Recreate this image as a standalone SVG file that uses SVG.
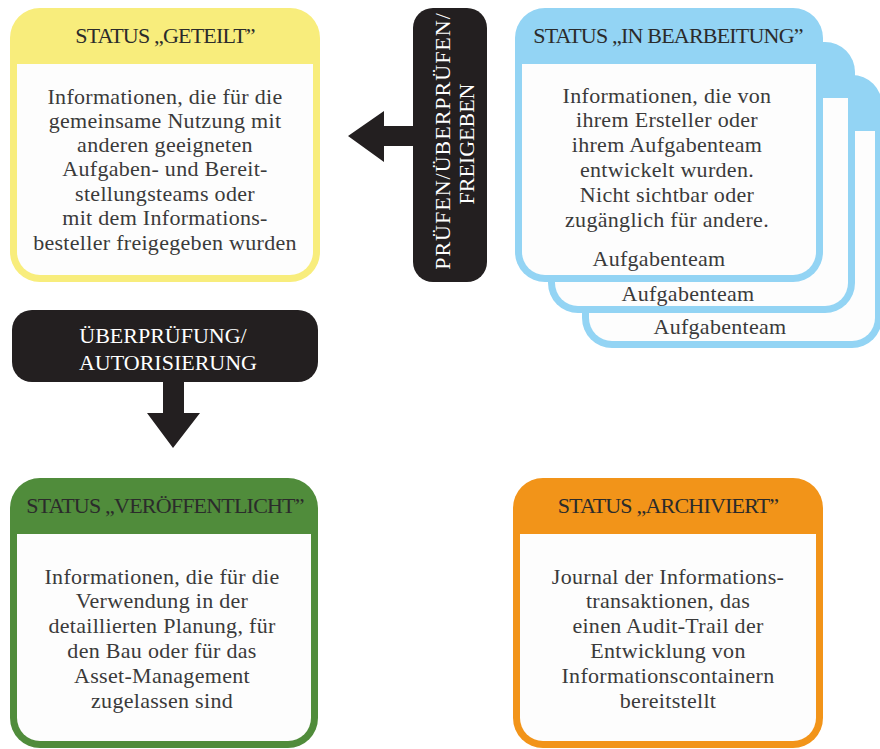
<svg xmlns="http://www.w3.org/2000/svg" width="880" height="749" viewBox="0 0 880 749">
  <style>
    .head { font-family: "Liberation Serif", "DejaVu Serif", serif; font-size: 22px; fill: #2b2b2b; text-anchor: middle; letter-spacing: -0.8px; }
    .body { font-family: "Liberation Serif", "DejaVu Serif", serif; font-size: 22px; fill: #3a3a3a; text-anchor: middle; letter-spacing: 0.3px; }
    .tag { font-family: "Liberation Serif", "DejaVu Serif", serif; font-size: 22px; fill: #ffffff; text-anchor: middle; }
    .inner { fill: #fdfdfd; }
    .yellow { fill: #f8ed7c; }
    .blue { fill: #93d4f4; }
    .green { fill: #508c3b; }
    .orange { fill: #f29419; }
    .dark { fill: #231f20; }
  </style>

  <rect width="880" height="749" fill="#ffffff"/>

  <!-- Status: shared -->
  <g id="status-geteilt">
    <rect class="yellow" x="10" y="8" width="310" height="274" rx="30"/>
    <path class="inner" d="M17,64 H313 V252 A23,23 0 0 1 290,275 H40 A23,23 0 0 1 17,252 Z"/>
    <text class="head" x="165" y="43">STATUS „GETEILT”</text>
    <text class="body" x="165" y="104">Informationen, die für die</text>
    <text class="body" x="165" y="128">gemeinsame Nutzung mit</text>
    <text class="body" x="165" y="152">anderen geeigneten</text>
    <text class="body" x="165" y="176">Aufgaben- und Bereit-</text>
    <text class="body" x="165" y="201">stellungsteams oder</text>
    <text class="body" x="165" y="225">mit dem Informations-</text>
    <text class="body" x="165" y="250">besteller freigegeben wurden</text>
  </g>

  <!-- Status: work in progress (stack of task teams) -->
  <g id="status-in-bearbeitung">
    <g id="team-3">
      <rect class="blue" x="582" y="75" width="300" height="273" rx="30"/>
      <path class="inner" d="M589,131 H875 V318 A23,23 0 0 1 852,341 H612 A23,23 0 0 1 589,318 Z"/>
      <text class="body" x="720" y="334">Aufgabenteam</text>
    </g>
    <g id="team-2">
      <rect class="blue" x="548" y="42" width="307" height="271" rx="30"/>
      <path class="inner" d="M555,98 H848 V283 A23,23 0 0 1 825,306 H578 A23,23 0 0 1 555,283 Z"/>
      <text class="body" x="688" y="301">Aufgabenteam</text>
    </g>
    <g id="team-1">
      <rect class="blue" x="515" y="8" width="308" height="274" rx="30"/>
      <path class="inner" d="M522,64 H816 V252 A23,23 0 0 1 793,275 H545 A23,23 0 0 1 522,252 Z"/>
      <text class="head" x="668" y="43">STATUS „IN BEARBEITUNG”</text>
      <text class="body" x="667" y="103">Informationen, die von</text>
      <text class="body" x="667" y="127">ihrem Ersteller oder</text>
      <text class="body" x="667" y="152">ihrem Aufgabenteam</text>
      <text class="body" x="667" y="177">entwickelt wurden.</text>
      <text class="body" x="667" y="202">Nicht sichtbar oder</text>
      <text class="body" x="667" y="227">zugänglich für andere.</text>
      <text class="body" x="659" y="266">Aufgabenteam</text>
    </g>
  </g>

  <!-- Transition label: check / review / release -->
  <g id="pruefen-freigeben">
    <rect class="dark" x="413" y="8" width="74" height="274" rx="20"/>
    <text class="tag" transform="translate(450,141) rotate(-90)" letter-spacing="1">PRÜFEN/ÜBERPRÜFEN/</text>
    <text class="tag" transform="translate(474,144) rotate(-90)">FREIGEBEN</text>
  </g>

  <!-- Transition label: review / authorisation -->
  <g id="ueberpruefung-autorisierung">
    <rect class="dark" x="12" y="310" width="306" height="72" rx="20"/>
    <text class="tag" x="163" y="343">ÜBERPRÜFUNG/</text>
    <text class="tag" x="168" y="370">AUTORISIERUNG</text>
  </g>

  <!-- Status: published -->
  <g id="status-veroeffentlicht">
    <rect class="green" x="10" y="478" width="308" height="270" rx="30"/>
    <path class="inner" d="M17,534 H311 V718 A23,23 0 0 1 288,741 H40 A23,23 0 0 1 17,718 Z"/>
    <text class="head" x="165" y="513">STATUS „VERÖFFENTLICHT”</text>
    <text class="body" x="162" y="584">Informationen, die für die</text>
    <text class="body" x="162" y="608">Verwendung in der</text>
    <text class="body" x="162" y="633">detaillierten Planung, für</text>
    <text class="body" x="162" y="658">den Bau oder für das</text>
    <text class="body" x="162" y="683">Asset-Management</text>
    <text class="body" x="162" y="708">zugelassen sind</text>
  </g>

  <!-- Status: archived -->
  <g id="status-archiviert">
    <rect class="orange" x="513" y="478" width="310" height="270" rx="30"/>
    <path class="inner" d="M520,534 H816 V718 A23,23 0 0 1 793,741 H543 A23,23 0 0 1 520,718 Z"/>
    <text class="head" x="668" y="513">STATUS „ARCHIVIERT”</text>
    <text class="body" x="668" y="584">Journal der Informations-</text>
    <text class="body" x="668" y="608">transaktionen, das</text>
    <text class="body" x="668" y="633">einen Audit-Trail der</text>
    <text class="body" x="668" y="658">Entwicklung von</text>
    <text class="body" x="668" y="683">Informationscontainern</text>
    <text class="body" x="668" y="708">bereitstellt</text>
  </g>

  <!-- Block arrows -->
  <g id="connectors">
    <polygon class="dark" points="414,126 384,126 384,111 348,136 384,162 384,146 414,146"/>
    <polygon class="dark" points="163,381 184,381 184,413 200,413 173,448 147,413 163,413"/>
  </g>
</svg>
